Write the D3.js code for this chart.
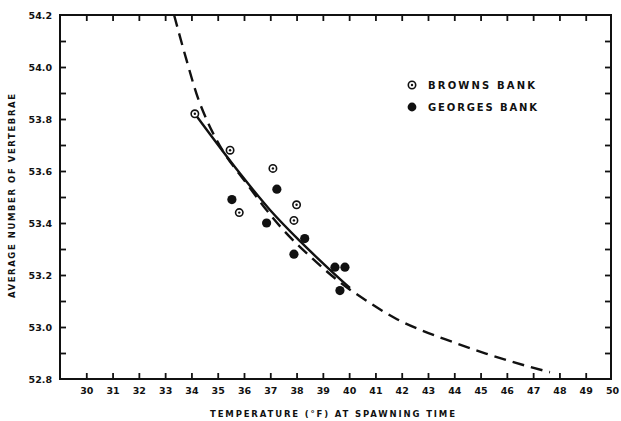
<!DOCTYPE html>
<html>
<head>
<meta charset="utf-8">
<script src="https://cdn.jsdelivr.net/npm/d3@7"></script>
<style>
  html, body { margin: 0; padding: 0; background: #fff; }
  svg { display: block; }
  text { font-family: "DejaVu Sans", sans-serif; font-weight: bold; fill: #111; }
</style>
</head>
<body>
<svg id="chart" width="621" height="421"></svg>
<script>
// ---- data ----
const xTickValues = [30,31,32,33,34,35,36,37,38,39,40,41,42,43,44,45,46,47,48,49,50];
const yTickLabels = ["52.8","53.0","53.2","53.4","53.6","53.8","54.0","54.2"];
const yMinorTicks = [52.8,52.9,53.0,53.1,53.2,53.3,53.4,53.5,53.6,53.7,53.8,53.9,54.0,54.1,54.2];

const brownsTemp = [34.13, 35.47, 35.82, 37.10, 37.90, 38.00];
const brownsVert = [53.82, 53.68, 53.44, 53.61, 53.41, 53.47];

const georgesTemp = [35.54, 36.86, 37.25, 37.90, 38.31, 39.46, 39.65, 39.84];
const georgesVert = [53.49, 53.40, 53.53, 53.28, 53.34, 53.23, 53.14, 53.23];

const solidTemp = [34.13, 35.85, 36.99, 38.13, 39.27, 40.03];
const solidVert = [53.82, 53.59, 53.45, 53.33, 53.22, 53.15];

const dashedTemp = [33.34, 33.79, 34.25, 34.59, 34.90, 36.11, 37.48, 38.62, 39.65, 40.68, 41.82, 42.69, 43.45, 44.14, 45.20, 46.69, 47.64];
const dashedVert = [54.20, 54.035, 53.88, 53.795, 53.73, 53.55, 53.375, 53.262, 53.172, 53.100, 53.030, 52.990, 52.960, 52.935, 52.898, 52.852, 52.826];

const legendLabels = ["BROWNS BANK", "GEORGES BANK"];
const xTitle = "TEMPERATURE (\u00B0F) AT SPAWNING TIME";
const yTitle = "AVERAGE NUMBER OF VERTEBRAE";

// ---- layout ----
const svg = d3.select("#chart");
const L = 60, R = 611, T = 15, B = 379;
const x = d3.scaleLinear().domain([29, 50]).range([L, 612]);
const y = d3.scaleLinear().domain([52.8, 54.2]).range([B, T]);

// frame
svg.append("rect")
  .attr("x", L).attr("y", T).attr("width", R - L).attr("height", B - T)
  .attr("fill", "none").attr("stroke", "#111").attr("stroke-width", 2);

function styleAxis(g) {
  g.select(".domain").remove();
  g.selectAll(".tick line").attr("stroke", "#111").attr("stroke-width", 1.8);
}

// bottom axis (ticks point up)
svg.append("g").attr("transform", `translate(0,${B})`)
  .call(d3.axisBottom(x).tickValues(xTickValues.filter(v => v < 50)).tickSizeInner(-6).tickSizeOuter(0).tickPadding(0).tickFormat(""))
  .call(styleAxis);
svg.append("g").attr("transform", `translate(0,${B})`)
  .call(d3.axisBottom(x).tickValues(xTickValues).tickSize(0).tickPadding(8).tickFormat(d => String(d)))
  .call(g => g.select(".domain").remove())
  .call(g => g.selectAll("text").style("font-size", "9.5px").attr("fill", "#111"));

// top axis (ticks point down)
svg.append("g").attr("transform", `translate(0,${T})`)
  .call(d3.axisTop(x).tickValues(xTickValues.filter(v => v < 50)).tickSizeInner(-6).tickSizeOuter(0).tickFormat(""))
  .call(styleAxis);

// left axis (ticks point right)
svg.append("g").attr("transform", `translate(${L},0)`)
  .call(d3.axisLeft(y).tickValues(yMinorTicks.slice(1, -1)).tickSizeInner(-6).tickSizeOuter(0).tickFormat(""))
  .call(styleAxis);
svg.append("g").attr("transform", `translate(${L},0)`)
  .call(d3.axisLeft(y).tickValues(yTickLabels.map(Number)).tickSize(0).tickPadding(8).tickFormat(d3.format(".1f")))
  .call(g => g.select(".domain").remove())
  .call(g => g.selectAll("text").style("font-size", "9.5px").attr("fill", "#111"));

// right axis (ticks point left)
svg.append("g").attr("transform", `translate(${R},0)`)
  .call(d3.axisRight(y).tickValues(yMinorTicks.slice(1, -1)).tickSizeInner(-6).tickSizeOuter(0).tickFormat(""))
  .call(styleAxis);

// titles
svg.append("text")
  .attr("x", 210).attr("y", 416.5)
  .attr("textLength", 245).attr("lengthAdjust", "spacing")
  .style("font-size", "8.5px")
  .text(xTitle);

svg.append("text")
  .attr("transform", "translate(15,298) rotate(-90)")
  .attr("x", 0).attr("y", 0)
  .attr("textLength", 204).attr("lengthAdjust", "spacing")
  .style("font-size", "8.5px")
  .text(yTitle);

// curves
const dashedData = dashedTemp.map((t, i) => [t, dashedVert[i]]);
const solidData = solidTemp.map((t, i) => [t, solidVert[i]]);
const line = d3.line().x(d => x(d[0])).y(d => y(d[1])).curve(d3.curveMonotoneX);

svg.append("path").datum(dashedData)
  .attr("d", line).attr("fill", "none")
  .attr("stroke", "#111").attr("stroke-width", 2.4)
  .attr("stroke-dasharray", "12,7");

svg.append("path").datum(solidData)
  .attr("d", line).attr("fill", "none")
  .attr("stroke", "#111").attr("stroke-width", 2.4);

// points
const browns = brownsTemp.map((t, i) => [t, brownsVert[i]]);
const georges = georgesTemp.map((t, i) => [t, georgesVert[i]]);

function ringDot(sel) {
  sel.append("circle").attr("r", 3.7).attr("fill", "#fff").attr("stroke", "#111").attr("stroke-width", 1.6);
  sel.append("circle").attr("r", 1.2).attr("fill", "#111");
}

svg.append("g").selectAll("g").data(browns).join("g")
  .attr("transform", d => `translate(${x(d[0])},${y(d[1])})`)
  .call(ringDot);

svg.append("g").selectAll("circle").data(georges).join("circle")
  .attr("cx", d => x(d[0])).attr("cy", d => y(d[1]))
  .attr("r", 4.6).attr("fill", "#111");

// legend
const lg = svg.append("g");
lg.append("g").attr("transform", "translate(412,85)").call(ringDot);
lg.append("circle").attr("cx", 412).attr("cy", 107).attr("r", 4.4).attr("fill", "#111");
lg.append("text").attr("x", 428).attr("y", 89)
  .attr("textLength", 107).attr("lengthAdjust", "spacing")
  .style("font-size", "10px").text(legendLabels[0]);
lg.append("text").attr("x", 428).attr("y", 111)
  .attr("textLength", 109).attr("lengthAdjust", "spacing")
  .style("font-size", "10px").text(legendLabels[1]);
</script>
</body>
</html>
